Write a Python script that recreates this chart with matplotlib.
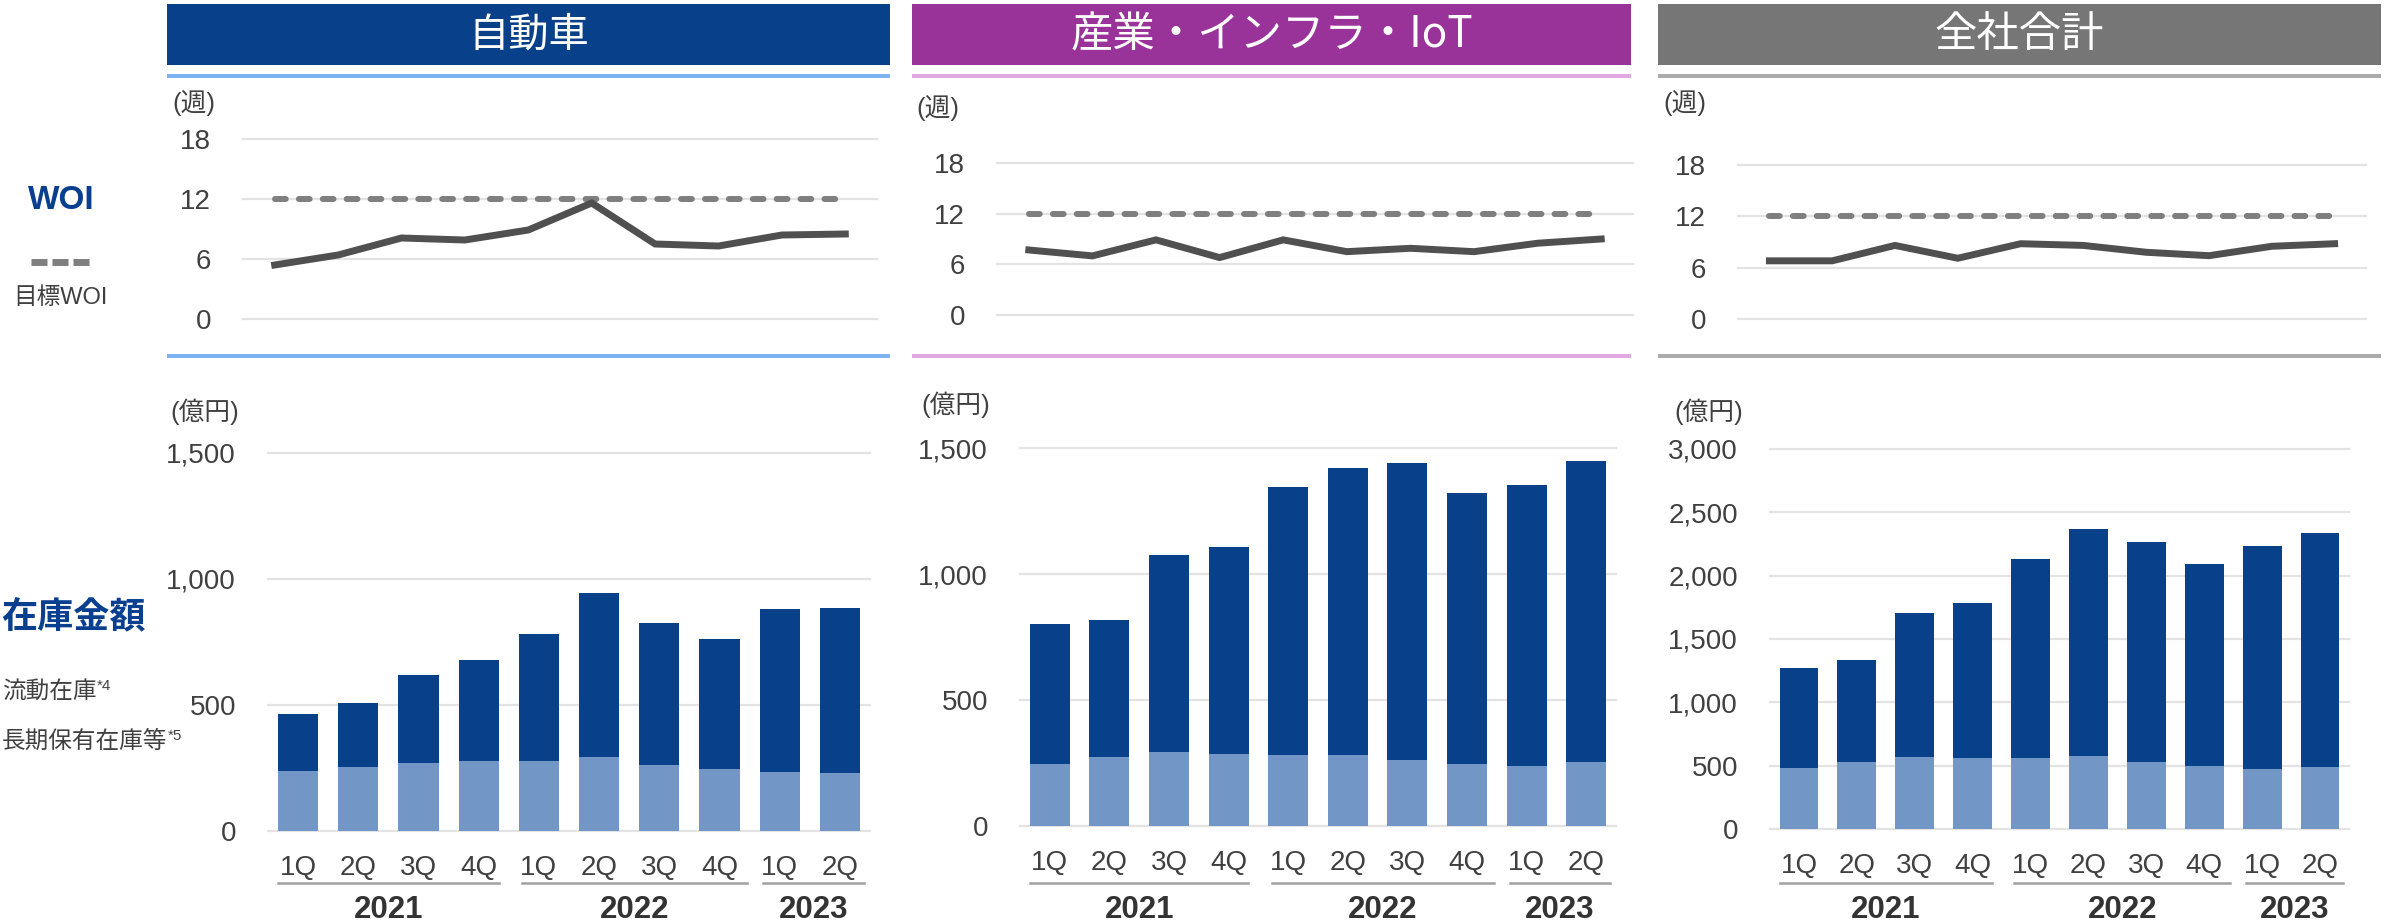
import matplotlib
matplotlib.use("Agg")
import matplotlib.pyplot as plt
from matplotlib.patches import Rectangle
from matplotlib.transforms import blended_transform_factory

plt.rcParams['font.family'] = ['Liberation Sans', 'Noto Sans CJK JP']

W, H = 2386, 924

# ---- data ----
quarters = ['1Q', '2Q', '3Q', '4Q', '1Q', '2Q', '3Q', '4Q', '1Q', '2Q']
years = ['2021', '2022', '2023']
year_span = [(-0.33, 3.33), (3.72, 7.45), (7.72, 9.4)]

titles = ['自動車', '産業・インフラ・IoT', '全社合計']

target_woi = 12
woi_auto = [5.4, 6.4, 8.1, 7.9, 8.9, 11.6, 7.5, 7.3, 8.4, 8.5]
woi_iiot = [7.7, 7.0, 8.9, 6.8, 8.9, 7.5, 7.9, 7.5, 8.5, 9.0]
woi_total = [6.8, 6.8, 8.6, 7.1, 8.8, 8.6, 7.8, 7.4, 8.5, 8.8]

# 長期保有在庫等 (bottom, light) and 流動在庫 (top, dark), 億円
long_auto = [237, 253, 269, 277, 277, 293, 261, 247, 233, 230]
curr_auto = [226, 254, 352, 400, 503, 651, 564, 516, 646, 654]
long_iiot = [245, 272, 292, 285, 283, 282, 261, 248, 239, 254]
curr_iiot = [557, 547, 783, 822, 1062, 1140, 1178, 1074, 1116, 1193]
long_total = [483, 526, 565, 563, 563, 574, 526, 497, 474, 486]
curr_total = [790, 809, 1140, 1224, 1568, 1795, 1741, 1594, 1762, 1849]

woi_series = [woi_auto, woi_iiot, woi_total]
long_series = [long_auto, long_iiot, long_total]
curr_series = [curr_auto, curr_iiot, curr_total]
inv_max = [1500, 1500, 3000]

head_colors = ['#08418A', '#993399', '#767676']
sep_colors = ['#7EB3F2', '#E2A8E2', '#ABABAB']
dark = '#08418A'
light = '#7297C6'
txt = '#404040'
grid_c = '#E3E3E3'

# pixel layout of each panel
layout = [
    dict(hx=(167, 890), top=(243, 877, 139, 319), bot=(268, 870, 453, 831),
         uw=(172, 103), uy=(170, 412)),
    dict(hx=(912, 1631), top=(997, 1633, 163, 315), bot=(1020, 1616, 448, 826),
         uw=(916, 108), uy=(921, 405)),
    dict(hx=(1658, 2381), top=(1738, 2366, 165, 319), bot=(1770, 2349, 449, 829),
         uw=(1663, 103), uy=(1674, 412)),
]
title_sizes = [29, 30.5, 30.5]


def box(x0, x1, ytop, ybot):
    return [x0 / W, 1 - ybot / H, (x1 - x0) / W, (ybot - ytop) / H]


def fy(y):
    return 1 - y / H


fig = plt.figure(figsize=(W / 100, H / 100), dpi=100)
x = list(range(len(quarters)))

for i in range(3):
    L = layout[i]
    hx0, hx1 = L['hx']
    # header band
    fig.add_artist(Rectangle((hx0 / W, fy(65)), (hx1 - hx0) / W, 61 / H,
                             transform=fig.transFigure, color=head_colors[i], lw=0))
    fig.text((hx0 + hx1) / 2 / W, fy(35), titles[i], color='white', fontsize=title_sizes[i],
             ha='center', va='center', family=['Noto Sans CJK JP', 'DejaVu Sans'])
    for ys in (76, 356):
        fig.add_artist(Rectangle((hx0 / W, fy(ys + 2)), (hx1 - hx0) / W, 4 / H,
                                 transform=fig.transFigure, color=sep_colors[i], lw=0))

    # WOI line chart
    ax = fig.add_axes(box(*L['top']))
    ax.set_xlim(-0.5, 9.5)
    ax.set_ylim(0, 18)
    for v in [0, 6, 12, 18]:
        ax.axhline(v, color=grid_c, lw=1.6, zorder=0, clip_on=False)
    ax.plot([0, 9], [target_woi, target_woi], color='#7F7F7F', lw=4.3,
            linestyle=(0, (1.8, 2.2)), dash_capstyle='round', zorder=2)
    ax.plot(x, woi_series[i], color='#505050', lw=5, solid_joinstyle='miter', zorder=3)
    ax.set_yticks([0, 6, 12, 18])
    ax.set_xticks([])
    ax.tick_params(axis='y', length=0, pad=23, labelsize=20, labelcolor=txt)
    for s in ax.spines.values():
        s.set_visible(False)
    fig.text(L['uw'][0] / W, fy(L['uw'][1]), '(週)', fontsize=18.5, color=txt,
             ha='left', va='center')

    # inventory stacked bars
    bx = fig.add_axes(box(*L['bot']))
    bx.set_xlim(-0.5, 9.5)
    bx.set_ylim(0, inv_max[i])
    ticks = list(range(0, inv_max[i] + 1, 500))
    for v in ticks:
        bx.axhline(v, color=grid_c, lw=1.6, zorder=0, clip_on=False)
    bx.bar(x, long_series[i], width=0.67, color=light, zorder=2)
    bx.bar(x, curr_series[i], bottom=long_series[i], width=0.67, color=dark, zorder=2)
    bx.set_yticks(ticks)
    bx.set_yticklabels([f'{t:,}' for t in ticks])
    bx.set_xticks(x)
    bx.set_xticklabels(quarters)
    bx.tick_params(axis='y', length=0, pad=23, labelsize=20, labelcolor=txt)
    bx.tick_params(axis='x', length=0, pad=17, labelsize=20, labelcolor=txt)
    for s in bx.spines.values():
        s.set_visible(False)
    fig.text(L['uy'][0] / W, fy(L['uy'][1]), '(億円)', fontsize=18.5, color=txt,
             ha='left', va='center')

    tr = blended_transform_factory(bx.transData, fig.transFigure)
    for yr, (a, b) in zip(years, year_span):
        bx.plot([a, b], [fy(883), fy(883)], transform=tr, color='#A0A0A0',
                lw=1.8, clip_on=False)
        bx.text((a + b) / 2, fy(910), yr, transform=tr, ha='center', va='center',
                fontsize=22.5, fontweight='bold', color='#333333')

# left side legend texts
blue = '#0A3F8F'
fig.text(61 / W, fy(201), 'WOI', fontsize=24, fontweight='bold', color=blue,
         ha='center', va='center')
for d0 in (31, 52, 73):
    fig.add_artist(plt.Line2D([d0 / W, (d0 + 16) / W], [fy(262), fy(262)],
                              transform=fig.transFigure, color='#7F7F7F', lw=5,
                              solid_capstyle='butt'))
fig.text(13 / W, fy(298), '目標WOI', fontsize=17, color=txt, ha='left', va='center')
fig.text(1 / W, fy(618), '在庫金額', fontsize=26, fontweight='bold', color=blue,
         ha='left', va='center')
fig.text(2 / W, fy(692), '流動在庫', fontsize=17, color=txt, ha='left', va='center')
fig.text(97 / W, fy(686), '*4', fontsize=11, color=txt, ha='left', va='center')
fig.text(2 / W, fy(742), '長期保有在庫等', fontsize=17, color=txt, ha='left', va='center')
fig.text(168 / W, fy(736), '*5', fontsize=11, color=txt, ha='left', va='center')

fig.savefig('out.png', dpi=100)
